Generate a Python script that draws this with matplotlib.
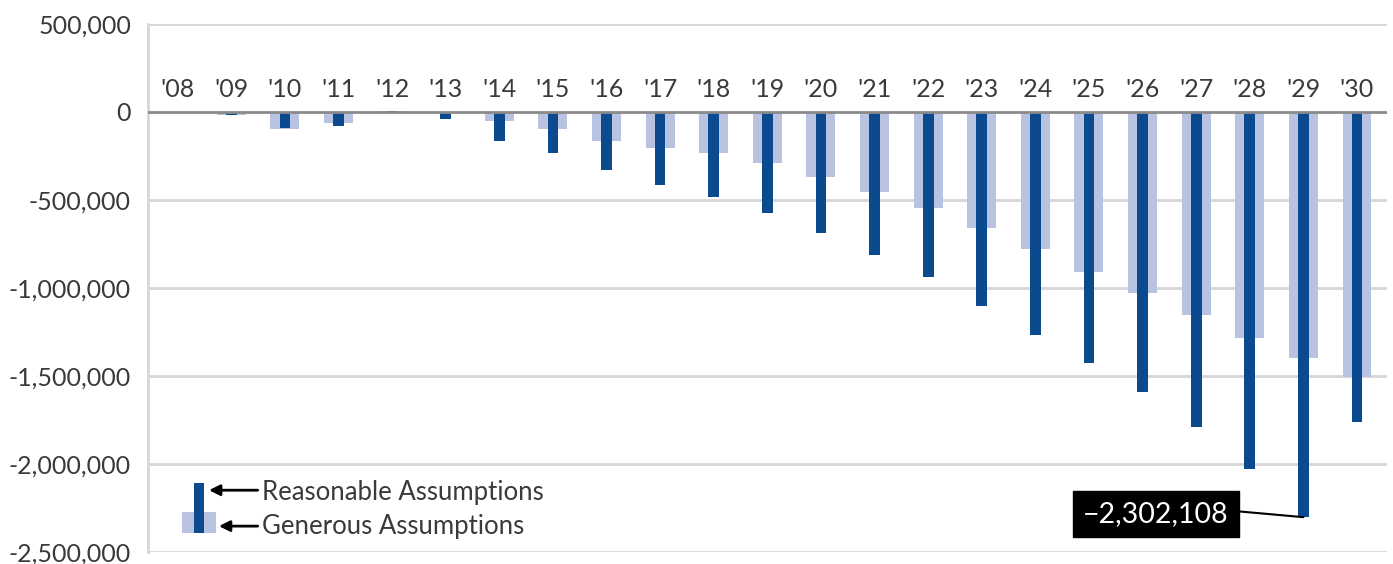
import matplotlib
matplotlib.use("Agg")
import matplotlib.pyplot as plt
from matplotlib.patches import Rectangle

years = ["'08", "'09", "'10", "'11", "'12", "'13", "'14", "'15", "'16", "'17", "'18",
         "'19", "'20", "'21", "'22", "'23", "'24", "'25", "'26", "'27", "'28", "'29", "'30"]
reasonable = [-5000, -20000, -90000, -80000, 3000, -40000, -165000, -232000, -328000,
              -413000, -482000, -573000, -686000, -810000, -940000, -1100000, -1270000,
              -1428000, -1593000, -1790000, -2030000, -2302108, -1763000]
generous = [-5000, -15000, -95000, -62000, 8000, -5000, -50000, -96000, -165000,
            -205000, -232000, -289000, -368000, -453000, -544000, -657000, -776000,
            -912000, -1031000, -1155000, -1285000, -1399000, -1506000]
yticks = [500000, 0, -500000, -1000000, -1500000, -2000000, -2500000]
ytick_labels = ["500,000", "0", "-500,000", "-1,000,000", "-1,500,000", "-2,000,000", "-2,500,000"]
annot_label = "\u22122,302,108"

DARK = "#0b4a8e"
LIGHT = "#b7c3e1"
FONT = "Lato"
TXT = "#3a3a3a"

fig = plt.figure(figsize=(13.93, 5.64), dpi=100)
ax = fig.add_axes([0.106, 0.0213, 0.8897, 0.9362])

x = list(range(len(years)))
ax.bar(x, generous, width=0.54, color=LIGHT, zorder=2)
ax.bar(x, reasonable, width=0.2, color=DARK, zorder=3)

ax.set_xlim(-0.56, 22.56)
ax.set_ylim(-2500000, 500000)
ax.set_yticks(yticks)
ax.set_yticklabels(ytick_labels, fontsize=18, family=FONT, color=TXT)
ax.tick_params(axis="y", length=0, pad=12)
ax.set_xticks([])

for v in yticks:
    if v != 0:
        ax.axhline(v, color="#d6d6d6", lw=2, zorder=1)
ax.axhline(0, color="#8a8a8a", lw=2, zorder=4)

for s in ["top", "right", "bottom"]:
    ax.spines[s].set_visible(False)
ax.spines["left"].set_color("#d6d6d6")
ax.spines["left"].set_linewidth(2)

for xi, lab in zip(x, years):
    ax.text(xi, 125000, lab, ha="center", va="center", fontsize=18,
            family=FONT, color=TXT)

# Annotation for the 2029 value
ax.annotate(annot_label, xy=(21, reasonable[21]), xytext=(18.25, -2282000),
            ha="center", va="center", fontsize=20.5, family=FONT, color="white",
            bbox=dict(boxstyle="square,pad=0.35", fc="black", ec="black"),
            arrowprops=dict(arrowstyle="-", color="black", lw=1.5,
                            shrinkA=0, shrinkB=0, relpos=(1.0, 0.62)),
            zorder=6)

# Custom legend (axes fraction coordinates)
t = ax.transAxes
ax.add_patch(Rectangle((0.0274, 0.036), 0.0275, 0.040, transform=t,
                       color=LIGHT, zorder=5, lw=0))
ax.add_patch(Rectangle((0.0370, 0.036), 0.0088, 0.094, transform=t,
                       color=DARK, zorder=6, lw=0))
ax.annotate("", xy=(0.0495, 0.117), xytext=(0.0888, 0.117), xycoords=t,
            textcoords=t, arrowprops=dict(arrowstyle="-|>", color="black", lw=2,
                                          mutation_scale=16, shrinkA=0, shrinkB=0))
ax.annotate("", xy=(0.0575, 0.049), xytext=(0.0888, 0.049), xycoords=t,
            textcoords=t, arrowprops=dict(arrowstyle="-|>", color="black", lw=2,
                                          mutation_scale=16, shrinkA=0, shrinkB=0))
ax.text(0.0925, 0.112, "Reasonable Assumptions", transform=t, ha="left",
        va="center", fontsize=18.5, family=FONT, color=TXT)
ax.text(0.0925, 0.049, "Generous Assumptions", transform=t, ha="left",
        va="center", fontsize=18.5, family=FONT, color=TXT)

fig.savefig("out.png", dpi=100)
